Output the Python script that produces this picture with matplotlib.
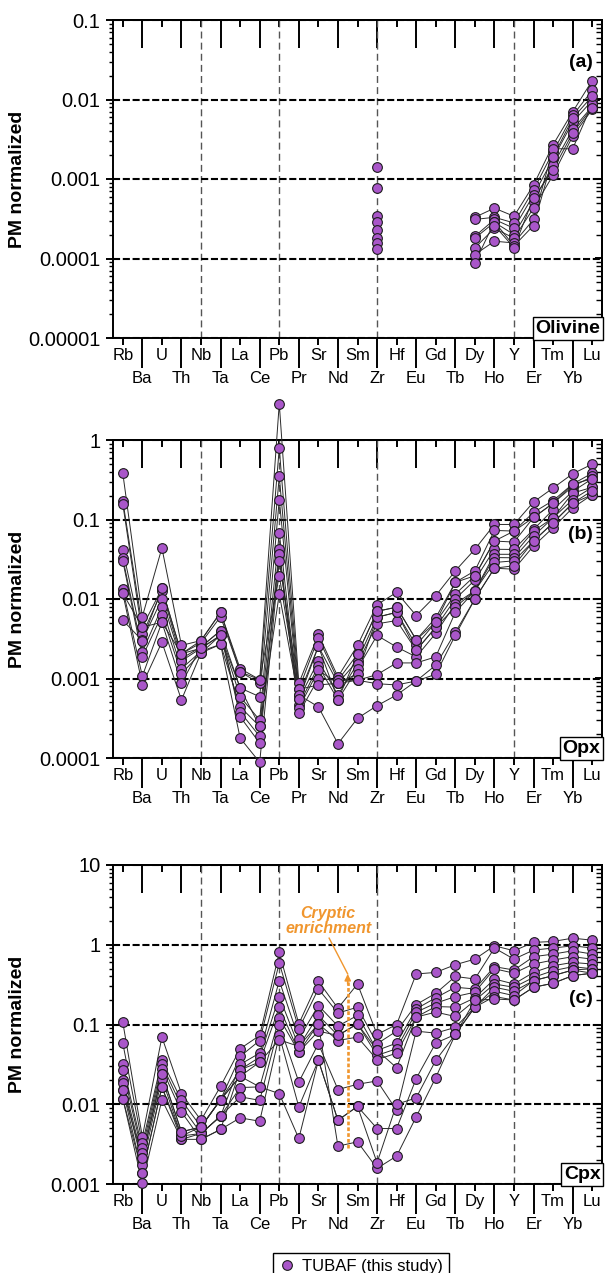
import numpy as np
import matplotlib
matplotlib.use('Agg')
import matplotlib.pyplot as plt
from matplotlib.lines import Line2D
from matplotlib.ticker import LogLocator, FuncFormatter, NullFormatter

plt.rcParams['font.family'] = ['Liberation Sans', 'DejaVu Sans']

# ---------------- data ----------------
elements = ['Rb', 'Ba', 'U', 'Th', 'Nb', 'Ta', 'La', 'Ce', 'Pb', 'Pr', 'Sr', 'Nd',
            'Sm', 'Zr', 'Hf', 'Eu', 'Gd', 'Tb', 'Dy', 'Ho', 'Y', 'Er', 'Tm', 'Yb', 'Lu']
divider_elements = ['Nb', 'Pb', 'Zr', 'Y']
N = np.nan

# Olivine: only these elements were measured
olivine_elements = ['Zr', 'Dy', 'Ho', 'Y', 'Er', 'Tm', 'Yb', 'Lu']
olivine_samples = [
    [0.0014,   0.00033,  0.00043,  0.00034,  0.00084, 0.0027,  0.0070,  0.0173],
    [0.00076,  0.00031,  0.00033,  0.00028,  0.00073, 0.0022,  0.0063,  0.0130],
    [0.00034,  0.00019,  0.00031,  0.00024,  0.00063, 0.0018,  0.0052,  0.0097],
    [0.00029,  0.00018,  0.000285, 0.00020,  0.00052, 0.0015,  0.0042,  0.0082],
    [0.00023,  0.000136, 0.00024,  0.00018,  0.00043, 0.00112, 0.00345, 0.0075],
    [0.00018,  0.000112, 0.000165, 0.000157, 0.00031, 0.0024,  0.0024,  0.0088],
    [0.000155, 0.000088, 0.00029,  0.000144, 0.00026, 0.0019,  0.0058,  0.0110],
    [0.00013,  N,        0.00026,  0.000137, 0.00058, 0.0013,  0.0038,  0.0079],
]

# Opx: Rb Ba U Th Nb Ta La Ce Pb Pr Sr Nd Sm Zr Hf Eu Gd Tb Dy Ho Y Er Tm Yb Lu
opx_samples = [
    [0.383, 0.0060, 0.0438, 0.00261, 0.0030, 0.0068, 0.00133, 0.00097, 2.87, 0.00087, 0.00358, 0.00105, 0.00261, 0.0085, 0.0121, 0.0062, 0.0110, 0.0226, 0.0422, 0.0866, 0.0866, 0.166, 0.249, 0.376, 0.497],
    [0.173, 0.00443, 0.0136, 0.00205, 0.0028, 0.0060, 0.00121, 0.00087, 0.787, 0.00073, 0.00326, 0.00095, 0.00202, 0.0070, 0.0079, 0.00307, 0.0058, 0.0162, 0.0226, 0.0729, 0.0715, 0.123, 0.173, 0.279, 0.383],
    [0.157, 0.00358, 0.0125, 0.00178, 0.0025, 0.0040, 0.00076, 0.00059, 0.348, 0.00062, 0.00254, 0.00087, 0.00167, 0.0059, 0.0068, 0.00261, 0.0051, 0.0115, 0.0196, 0.0536, 0.052, 0.106, 0.160, 0.260, 0.348],
    [0.0414, 0.00302, 0.0100, 0.00167, 0.0024, 0.00348, 0.00059, 0.00030, 0.178, 0.000546, 0.00167, 0.00062, 0.00154, 0.00487, 0.00536, 0.00226, 0.0044, 0.0100, 0.0173, 0.0422, 0.042, 0.075, 0.133, 0.226, 0.325],
    [0.0326, 0.00216, 0.00787, 0.00133, 0.0022, 0.00269, 0.00044, 0.00025, 0.068, 0.000464, 0.00143, 0.00054, 0.00133, 0.00348, 0.00249, 0.00187, 0.0037, 0.0087, 0.0127, 0.0365, 0.0365, 0.0715, 0.105, 0.215, 0.254],
    [0.0302, 0.00187, 0.0063, 0.00115, 0.0021, 0.0035, 0.00038, 0.000187, 0.0422, 0.000423, 0.00127, 0.00087, 0.00115, 0.0059, 0.0068, 0.00226, 0.0044, 0.0079, 0.0127, 0.0332, 0.033, 0.062, 0.105, 0.178, 0.254],
    [0.0133, 0.00107, 0.0051, 0.000866, 0.0025, 0.0040, 0.00033, 0.000154, 0.0365, 0.000365, 0.0010, 0.00095, 0.00095, 0.00112, 0.00157, 0.00157, 0.00187, 0.0068, 0.0127, 0.0288, 0.0302, 0.0536, 0.0909, 0.160, 0.205],
    [0.0118, 0.00084, 0.00287, 0.000537, 0.0021, 0.00269, 0.000178, 0.0000883, 0.0302, 0.00073, 0.00083, 0.00087, 0.00095, 0.00086, 0.00083, 0.00093, 0.00147, 0.0038, 0.0100, 0.0244, 0.0237, 0.0464, 0.0787, 0.140, 0.205],
    [0.0054, 0.0030, 0.0136, 0.00205, 0.0030, 0.0068, 0.00121, 0.00097, 0.0196, 0.00062, 0.00044, 0.000151, 0.000316, 0.000455, 0.00062, 0.00093, 0.00113, 0.0035, 0.0100, 0.0244, 0.0262, 0.0536, 0.0909, 0.160, 0.230],
    [0.0118, 0.00443, 0.0051, 0.00205, 0.0024, 0.0035, 0.00076, 0.00025, 0.01155, 0.000546, 0.00254, 0.00054, 0.00202, 0.0070, 0.0079, 0.00307, 0.0051, 0.0162, 0.0196, 0.0536, 0.0715, 0.106, 0.160, 0.279, 0.325],
]

# Cpx
cpx_samples = [
    [0.107, 0.0039, 0.0695, 0.0136, 0.0063, 0.0168, 0.0497, 0.0729, 0.80, 0.102, 0.348, 0.160, 0.322, 0.075, 0.100, 0.43, 0.45, 0.562, 0.66, 0.97, 0.841, 1.07, 1.10, 1.21, 1.14],
    [0.0585, 0.00322, 0.0355, 0.0112, 0.0052, 0.0114, 0.0398, 0.063, 0.59, 0.0883, 0.279, 0.139, 0.165, 0.0574, 0.0825, 0.178, 0.246, 0.40, 0.372, 0.909, 0.66, 0.858, 0.909, 0.97, 0.91],
    [0.0316, 0.00279, 0.0316, 0.00944, 0.0043, 0.0071, 0.0316, 0.0438, 0.355, 0.0662, 0.173, 0.0955, 0.130, 0.0473, 0.0585, 0.157, 0.216, 0.293, 0.279, 0.531, 0.482, 0.708, 0.764, 0.84, 0.764],
    [0.0271, 0.00242, 0.0279, 0.0080, 0.00363, 0.00483, 0.0271, 0.039, 0.224, 0.0531, 0.130, 0.0729, 0.102, 0.041, 0.0497, 0.143, 0.185, 0.224, 0.254, 0.50, 0.44, 0.573, 0.643, 0.708, 0.66],
    [0.020, 0.0021, 0.0242, 0.00451, 0.0052, 0.0114, 0.0224, 0.0338, 0.165, 0.0451, 0.102, 0.063, 0.0695, 0.0362, 0.0438, 0.124, 0.168, 0.165, 0.216, 0.372, 0.322, 0.45, 0.546, 0.60, 0.573],
    [0.0184, 0.00173, 0.021, 0.0040, 0.0043, 0.0071, 0.0162, 0.0165, 0.121, 0.0451, 0.0825, 0.0729, 0.102, 0.0473, 0.0287, 0.124, 0.143, 0.126, 0.20, 0.322, 0.293, 0.39, 0.473, 0.531, 0.50],
    [0.0153, 0.00136, 0.0165, 0.00363, 0.0043, 0.0071, 0.0124, 0.0112, 0.099, 0.019, 0.0574, 0.0153, 0.0178, 0.0196, 0.0084, 0.0825, 0.078, 0.092, 0.165, 0.293, 0.261, 0.355, 0.41, 0.482, 0.44],
    [0.0118, 0.00102, 0.0114, 0.00363, 0.00363, 0.00483, 0.00675, 0.00613, 0.0729, 0.00926, 0.0355, 0.0063, 0.0094, 0.00496, 0.00496, 0.021, 0.0585, 0.075, 0.165, 0.261, 0.23, 0.355, 0.41, 0.482, 0.50],
    [0.0118, 0.00136, 0.0165, 0.0040, 0.0052, 0.0114, 0.0271, 0.0338, 0.0643, 0.0531, 0.102, 0.00298, 0.00338, 0.00157, 0.00224, 0.00695, 0.0216, 0.075, 0.165, 0.224, 0.203, 0.293, 0.329, 0.41, 0.44],
    [0.0153, 0.0021, 0.0242, 0.00451, 0.0052, 0.0114, 0.0224, 0.0165, 0.0136, 0.00372, 0.0355, 0.0063, 0.0094, 0.00185, 0.0100, 0.012, 0.0355, 0.075, 0.20, 0.209, 0.203, 0.293, 0.329, 0.41, 0.44],
]

# cryptic enrichment annotation (between Nd and Sm)
cryptic_between = ('Nd', 'Sm')
cryptic_from, cryptic_to = 0.0028, 0.43
cryptic_text_pos = (10.5, 2.0)
cryptic_leader_start = (10.55, 1.21)

legend_label = 'TUBAF (this study)'

# ---------------- style ----------------
PURPLE = '#A956C9'
EDGE = '#1c1c1c'
LINE = '#2a2a2a'
ORANGE = '#F0962E'
W, H = 607, 1273

x = np.arange(len(elements))


def full_row(el_list, vals):
    row = np.full(len(elements), np.nan)
    for e, v in zip(el_list, vals):
        row[elements.index(e)] = v
    return row


olivine_rows = [full_row(olivine_elements, s) for s in olivine_samples]
opx_rows = [np.array(s, dtype=float) for s in opx_samples]
cpx_rows = [np.array(s, dtype=float) for s in cpx_samples]


def ax_rect(top_px, bottom_px, left_px=113, right_px=602):
    return [left_px / W, 1 - bottom_px / H, (right_px - left_px) / W, (bottom_px - top_px) / H]


def fmt(v, pos):
    n = int(round(np.log10(v)))
    return f'{v:.{max(0, -n)}f}'


fig = plt.figure(figsize=(W / 100, H / 100), dpi=100)

panels = [
    dict(rect=ax_rect(20, 338), ylim=(1e-5, 1e-1), rows=olivine_rows, tag='(a)', tag_y=0.865, box='Olivine'),
    dict(rect=ax_rect(440, 758), ylim=(1e-4, 1e0), rows=opx_rows, tag='(b)', tag_y=0.704, box='Opx'),
    dict(rect=ax_rect(865, 1184), ylim=(1e-3, 1e1), rows=cpx_rows, tag='(c)', tag_y=0.58, box='Cpx'),
]

MS = 7.0
axes = []
for p in panels:
    ax = fig.add_axes(p['rect'])
    axes.append(ax)
    ax.set_yscale('log')
    ax.set_ylim(*p['ylim'])
    ax.set_xlim(-0.5, len(elements) - 0.5)

    for r in p['rows']:
        ax.plot(x, r, '-', color=LINE, lw=0.7, zorder=3, clip_on=False)
    for r in p['rows']:
        ax.plot(x, r, 'o', ls='none', ms=MS, mfc=PURPLE, mec=EDGE, mew=0.8, zorder=4, clip_on=False)

    # grid lines
    ax.grid(axis='y', which='major', ls=(0, (3.4, 1.3)), color='black', lw=1.5, zorder=1)
    for el in divider_elements:
        ax.axvline(elements.index(el), color='#555555', lw=1.0, ls=(0, (5, 3)), zorder=1)

    # x ticks (two rows)
    ax.set_xticks(x[::2])
    ax.set_xticklabels(elements[::2])
    ax.set_xticks(x[1::2], minor=True)
    ax.set_xticklabels(elements[1::2], minor=True)
    ax.tick_params(axis='x', which='major', direction='out', length=5, width=1.4,
                   pad=2.5, labelsize=12, top=False)
    ax.tick_params(axis='x', which='minor', direction='out', length=21.5, width=1.4,
                   pad=2.0, labelsize=12, top=False)

    # y ticks
    ax.yaxis.set_major_locator(LogLocator(base=10, numticks=20))
    ax.yaxis.set_minor_locator(LogLocator(base=10, subs=np.arange(2, 10), numticks=20))
    ax.yaxis.set_major_formatter(FuncFormatter(fmt))
    ax.yaxis.set_minor_formatter(NullFormatter())
    ax.tick_params(axis='y', which='major', direction='out', length=5, width=1.4,
                   labelsize=14.5, pad=4, right=False)
    ax.tick_params(axis='y', which='minor', direction='out', length=3, width=1.0, right=False)

    for sp in ax.spines.values():
        sp.set_linewidth(1.4)

    # top ticks (inward)
    sx = ax.secondary_xaxis('top')
    sx.set_xticks(x[::2])
    sx.set_xticks(x[1::2], minor=True)
    sx.xaxis.set_major_formatter(NullFormatter())
    sx.xaxis.set_minor_formatter(NullFormatter())
    sx.tick_params(which='major', direction='in', length=5, width=1.4)
    sx.tick_params(which='minor', direction='in', length=20, width=1.4)
    sx.spines['top'].set_linewidth(1.4)

    # right ticks (inward)
    sy = ax.secondary_yaxis('right')
    sy.yaxis.set_major_formatter(NullFormatter())
    sy.yaxis.set_minor_formatter(NullFormatter())
    sy.tick_params(which='major', direction='in', length=5, width=1.4)
    sy.tick_params(which='minor', direction='in', length=4.5, width=1.0)
    sy.spines['right'].set_linewidth(1.4)

    ax.set_ylabel('PM normalized', fontsize=14, fontweight='bold')
    ax.yaxis.set_label_coords(-0.178, 0.5)

    ax.text(0.982, p['tag_y'], p['tag'], transform=ax.transAxes, ha='right', va='center',
            fontsize=14, fontweight='bold', zorder=6)
    ax.text(0.997, 0.004, p['box'], transform=ax.transAxes, ha='right', va='bottom',
            fontsize=14, fontweight='bold', zorder=6,
            bbox=dict(boxstyle='square,pad=0.15', fc='white', ec='black', lw=1.0))

# cryptic enrichment annotation on Cpx panel
axc = axes[2]
cx = (elements.index(cryptic_between[0]) + elements.index(cryptic_between[1])) / 2
axc.plot([cx, cx], [cryptic_from, cryptic_to * 0.8], ls=(0, (1.4, 0.8)), lw=1.9,
         color=ORANGE, zorder=5)
axc.annotate('', xy=(cx, cryptic_to), xytext=(cx, cryptic_to * 0.75),
             arrowprops=dict(arrowstyle='-|>', color=ORANGE, lw=1.2, mutation_scale=9,
                             shrinkA=0, shrinkB=0), zorder=5)
axc.plot([cryptic_leader_start[0], cx], [cryptic_leader_start[1], cryptic_to],
         color=ORANGE, lw=1.0, zorder=5)
axc.text(cryptic_text_pos[0], cryptic_text_pos[1], 'Cryptic\nenrichment', ha='center', va='center',
         color=ORANGE, fontsize=11.5, fontweight='bold', fontstyle='italic', linespacing=1.0,
         zorder=6)

# legend
handle = Line2D([], [], marker='o', ls='none', ms=MS, mfc=PURPLE, mec=EDGE, mew=0.8)
leg = fig.legend([handle], [legend_label], loc='upper center',
                 bbox_to_anchor=(361 / W, 1 - 1245 / H), frameon=True, fancybox=False,
                 edgecolor='black', fontsize=12, handletextpad=0.4, borderpad=0.35,
                 handlelength=1.0, framealpha=1)
leg.get_frame().set_linewidth(1.0)

fig.savefig('out.png', dpi=100)
